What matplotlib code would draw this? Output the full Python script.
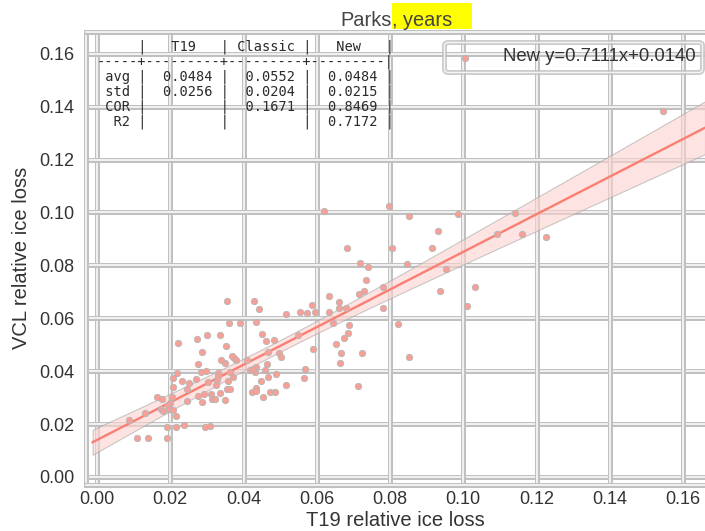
import numpy as np
import matplotlib
matplotlib.use("Agg")
import matplotlib.pyplot as plt
import matplotlib.patheffects as pe
from matplotlib.lines import Line2D
from matplotlib.patches import Rectangle

# ---------------- data ----------------
t19 = [0.0619, 0.0797, 0.0682, 0.0806, 0.0718, 0.0739, 0.0734, 0.0730, 0.0716, 0.0780,
       0.0782, 0.0823, 0.0354, 0.0429, 0.0443, 0.0633, 0.0661, 0.0588, 0.0661, 0.0679,
       0.0554, 0.0574, 0.0596, 0.0634, 0.0515, 0.0360, 0.0391, 0.0434, 0.0645, 0.0689,
       0.0686, 0.0675, 0.0653, 0.0667, 0.0723, 0.0663, 0.0713, 0.0589, 0.0569, 0.0565,
       0.0549, 0.0515, 0.0489, 0.0484, 0.0498, 0.0503, 0.0467, 0.0461, 0.0451, 0.0463,
       0.0458, 0.0447, 0.0466, 0.0433, 0.0424, 0.0435, 0.0452, 0.0473, 0.0485, 0.0431,
       0.0419, 0.0409, 0.0435, 0.0426, 0.0379, 0.0374, 0.0369, 0.0349, 0.0338, 0.0351,
       0.0335, 0.0301, 0.0272, 0.0286, 0.0222, 0.0277, 0.0283, 0.0298, 0.0330, 0.0330,
       0.0364, 0.0370, 0.0358, 0.0354, 0.0363, 0.0327, 0.0325, 0.0302, 0.0271, 0.0251,
       0.0233, 0.0219, 0.0208, 0.0208, 0.0245, 0.0275, 0.0293, 0.0310, 0.0313, 0.0321,
       0.0337, 0.0349, 0.0245, 0.0205, 0.0199, 0.0193, 0.0176, 0.0179, 0.0197, 0.0207,
       0.0215, 0.0163, 0.0177, 0.0130, 0.0088, 0.0110, 0.0138, 0.0192, 0.0192, 0.0215,
       0.0238, 0.0295, 0.0308, 0.0287,
       0.1545, 0.0852, 0.0986, 0.0932, 0.0914, 0.0846, 0.0954, 0.0936, 0.1031, 0.1011,
       0.0852, 0.1092, 0.1141, 0.1159, 0.1227, 0.1005]
vcl = [0.1007, 0.1024, 0.0867, 0.0864, 0.0810, 0.0793, 0.0746, 0.0704, 0.0693, 0.0719,
       0.0640, 0.0577, 0.0665, 0.0665, 0.0634, 0.0683, 0.0663, 0.0651, 0.0638, 0.0638,
       0.0625, 0.0621, 0.0623, 0.0623, 0.0617, 0.0582, 0.0582, 0.0586, 0.0582, 0.0573,
       0.0543, 0.0524, 0.0502, 0.0468, 0.0468, 0.0431, 0.0344, 0.0483, 0.0409, 0.0375,
       0.0537, 0.0349, 0.0389, 0.0517, 0.0468, 0.0454, 0.0471, 0.0513, 0.0539, 0.0426,
       0.0404, 0.0363, 0.0377, 0.0338, 0.0321, 0.0325, 0.0301, 0.0320, 0.0320, 0.0396,
       0.0404, 0.0441, 0.0417, 0.0408, 0.0442, 0.0449, 0.0459, 0.0432, 0.0442, 0.0495,
       0.0536, 0.0536, 0.0522, 0.0471, 0.0507, 0.0427, 0.0398, 0.0402, 0.0394, 0.0383,
       0.0396, 0.0379, 0.0363, 0.0333, 0.0332, 0.0367, 0.0348, 0.0358, 0.0372, 0.0356,
       0.0363, 0.0394, 0.0373, 0.0341, 0.0333, 0.0307, 0.0313, 0.0313, 0.0295, 0.0295,
       0.0316, 0.0291, 0.0287, 0.0302, 0.0280, 0.0273, 0.0256, 0.0251, 0.0256, 0.0253,
       0.0232, 0.0301, 0.0295, 0.0243, 0.0214, 0.0149, 0.0146, 0.0146, 0.0189, 0.0188,
       0.0198, 0.0189, 0.0192, 0.0282,
       0.1384, 0.0985, 0.0994, 0.0930, 0.0867, 0.0806, 0.0786, 0.0704, 0.0719, 0.0646,
       0.0452, 0.0917, 0.0999, 0.0917, 0.0906, 0.1585]

slope, intercept = 0.7111, 0.0140
fit_x_range = (-0.0012, 0.166)

ticks = [0.00, 0.02, 0.04, 0.06, 0.08, 0.10, 0.12, 0.14, 0.16]
tick_labels = ["0.00", "0.02", "0.04", "0.06", "0.08", "0.10", "0.12", "0.14", "0.16"]

table_lines = [
    "     |   T19   | Classic |   New   |",
    "-----+---------+---------+---------|",
    " avg |  0.0484 |  0.0552 |  0.0484 |",
    " std |  0.0256 |  0.0204 |  0.0215 |",
    " COR |         |  0.1671 |  0.8469 |",
    "  R2 |         |         |  0.7172 |",
]
legend_label = "New y=0.7111x+0.0140"
title_a, title_b = "Parks", ", years"
xlabel, ylabel = "T19 relative ice loss", "VCL relative ice loss"

# ---------------- figure ----------------
W, H = 705, 531
plt.rcParams['font.family'] = ['Liberation Sans', 'DejaVu Sans']
fig = plt.figure(figsize=(W / 100, H / 100), dpi=100)
ax = fig.add_axes([85.5 / W, (H - 484.5) / H, (W - 85.5) / W, (484.5 - 32) / H])
ax.set_xlim(-0.00314, 0.1660)
ax.set_ylim(-0.00284, 0.16824)

dbl = [pe.Stroke(linewidth=3.6, foreground='#c0c0c0'), pe.Normal()]
for t in ticks:
    ax.axvline(t, color='white', lw=1.1, zorder=0.5, path_effects=dbl)
    ax.axhline(t, color='white', lw=1.1, zorder=0.5, path_effects=dbl)
for s in ['left', 'bottom', 'top']:
    ax.spines[s].set_color('white')
    ax.spines[s].set_linewidth(1.1)
    ax.spines[s].set_path_effects(dbl)
ax.spines['right'].set_visible(False)

ax.set_xticks(ticks)
ax.set_xticklabels(tick_labels)
ax.set_yticks(ticks)
ax.set_yticklabels(tick_labels)
ax.tick_params(axis='both', length=0, labelsize=13, labelcolor='#333333')
ax.tick_params(axis='x', pad=5)
ax.tick_params(axis='y', pad=8)
ax.set_xlabel(xlabel, fontsize=14.5, color='#333333', labelpad=2)
ax.set_ylabel(ylabel, fontsize=14.5, color='#333333', labelpad=6)

# regression band
x = np.array(t19)
y = np.array(vcl)
n = len(x)
xs = np.linspace(fit_x_range[0], fit_x_range[1], 200)
ys = slope * xs + intercept
resid = y - (slope * x + intercept)
s_res = np.sqrt(np.sum(resid ** 2) / (n - 2))
sxx = np.sum((x - x.mean()) ** 2)
half = 1.977 * s_res * np.sqrt(1.0 / n + (xs - x.mean()) ** 2 / sxx)
ax.fill_between(xs, ys - half, ys + half, facecolor='#fcd3cf', alpha=0.6,
                edgecolor='#a8a8a8', linewidth=0.8, zorder=2)
ax.plot(xs, ys, color='#fa7f72', lw=1.7, zorder=2.5)

ax.scatter(x, y, s=21, facecolor='#f7a098', edgecolor='#b5b5b5', linewidth=0.6, zorder=3)

# legend
leg = ax.legend(handles=[Line2D([], [], linestyle='none')], labels=[legend_label],
                loc='upper right', bbox_to_anchor=(701.7 / W, 1 - 41.7 / H),
                bbox_transform=fig.transFigure, borderaxespad=0, fontsize=13.3,
                frameon=True, fancybox=True, handlelength=2.0, handletextpad=0.8,
                borderpad=0.35)
fr = leg.get_frame()
fr.set_facecolor('none')
fr.set_edgecolor('white')
fr.set_linewidth(1.0)
fr.set_path_effects(dbl)
for t in leg.get_texts():
    t.set_color('#333333')

# table text
row_y = [46.7, 61.75, 76.8, 91.85, 106.9, 121.95]
for line, yy in zip(table_lines, row_y):
    fig.text(97 / W, 1 - yy / H, line, family='DejaVu Sans Mono', fontsize=9.8,
             color='#2a2a2a', ha='left', va='center')

# title with highlight
fig.patches.append(Rectangle((391.7 / W, 1 - 29.3 / H), 80 / W, 26 / H,
                             transform=fig.transFigure, facecolor='#ffff00',
                             edgecolor='none', zorder=0))
fig.text(391.7 / W, 1 - 26 / H, title_a, fontsize=14.4, color='#444444',
         ha='right', va='baseline')
fig.text(391.7 / W, 1 - 26 / H, title_b, fontsize=14.4, color='#444444',
         ha='left', va='baseline')

fig.savefig("out.png", dpi=100)
